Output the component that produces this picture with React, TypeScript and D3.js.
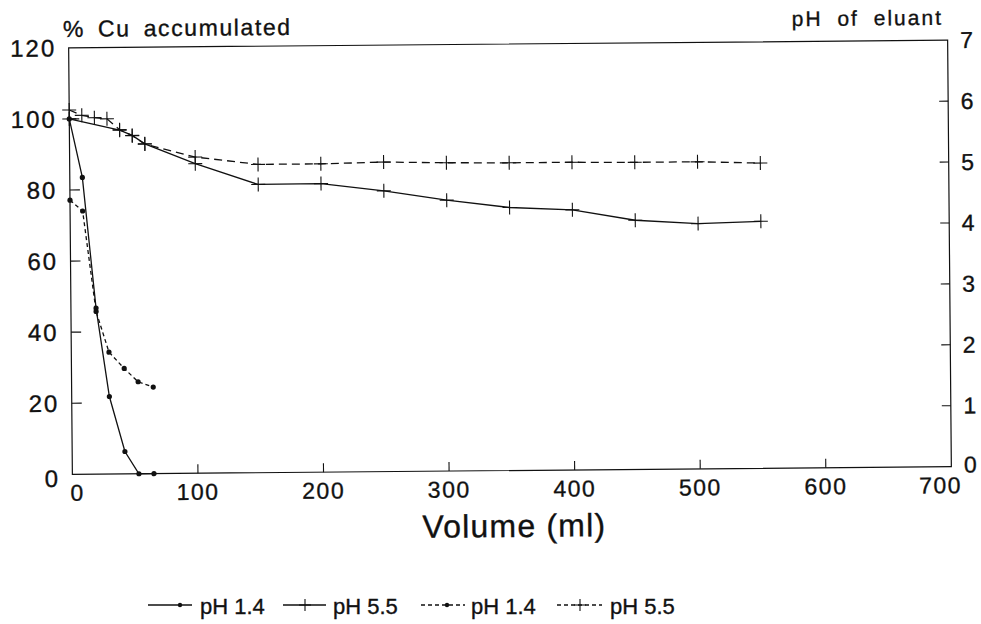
import React from "react";
import * as d3 from "d3";

const volPH14 = [0, 10, 20, 30, 42, 53, 65];
const cuPH14 = [100, 83.5, 46.7, 21.8, 6.3, 0, 0];
const eluantPH14 = [4.5, 4.32, 2.67, 2.0, 1.73, 1.51, 1.42];

const volCuPH55 = [0, 40, 50, 60, 100, 150, 200, 250, 300, 350, 400, 450, 500, 550];
const cuPH55 = [100, 96.7, 95.2, 92.8, 87.1, 81.1, 81.2, 79.0, 76.2, 74.0, 73.2, 70.1, 69.0, 69.5];
const volEluPH55 = [0, 10, 20, 30, 40, 50, 60, 100, 150, 200, 250, 300, 350, 400, 450, 500, 550];
const eluantPH55 = [5.98, 5.89, 5.85, 5.83, 5.65, 5.55, 5.41, 5.19, 5.06, 5.06, 5.08, 5.06, 5.05, 5.05, 5.04, 5.04, 5.01];

const xTicks = [0, 100, 200, 300, 400, 500, 600, 700];
const yLeftTicks = [0, 20, 40, 60, 80, 100, 120];
const yRightTicks = [0, 1, 2, 3, 4, 5, 6, 7];
const legendLabels = ["pH 1.4", "pH 5.5", "pH 1.4", "pH 5.5"];

const L = 70.5, R = 949.5, T = 44, B = 470.5;
const FONT = "'Liberation Sans', Arial, Helvetica, sans-serif";

const x = d3.scaleLinear().domain([0, 700]).range([L, R]);
const yL = d3.scaleLinear().domain([0, 120]).range([B, T]);
const yR = d3.scaleLinear().domain([0, 7]).range([B, T]);

function Cross({ cx, cy, s = 7 }: { cx: number; cy: number; s?: number }) {
  return (
    <g stroke="#111" strokeWidth={1.1}>
      <line x1={cx - s} x2={cx + s} y1={cy} y2={cy} />
      <line x1={cx} x2={cx} y1={cy - s} y2={cy + s} />
    </g>
  );
}

export default function App() {
  const line = d3.line<[number, number]>().x((d) => d[0]).y((d) => d[1]);
  const s1 = volPH14.map((v, i) => [x(v), yL(cuPH14[i])] as [number, number]);
  const s2 = volCuPH55.map((v, i) => [x(v), yL(cuPH55[i])] as [number, number]);
  const s3 = volPH14.map((v, i) => [x(v), yR(eluantPH14[i])] as [number, number]);
  const s4 = volEluPH55.map((v, i) => [x(v), yR(eluantPH55[i])] as [number, number]);

  const legY = 605;
  const txt = { stroke: "#111", strokeWidth: 0.35 };
  return (
    <svg width={981} height={624} style={{ position: "absolute", left: 0, top: 0, background: "#fff" }}>
      <rect width={981} height={624} fill="#fff" />
      <g transform="rotate(-0.5 510 257)" fontFamily={FONT} fill="#111">
        {/* frame */}
        <rect x={L} y={T} width={R - L} height={B - T} fill="none" stroke="#111" strokeWidth={1.2} />
        {/* left ticks */}
        {yLeftTicks.map((t) => (
          <g key={"l" + t}>
            {t > 0 && t < 120 && <line x1={L} x2={L + 10} y1={yL(t)} y2={yL(t)} stroke="#111" strokeWidth={1.1} />}
            <text {...txt} x={58} y={yL(t) + (t === 0 ? 4 : 0)} textAnchor="end" dominantBaseline="central" fontSize={24} letterSpacing={2}>{t}</text>
          </g>
        ))}
        {/* right ticks */}
        {yRightTicks.map((t) => (
          <g key={"r" + t}>
            {t > 0 && t < 7 && <line x1={R - 9} x2={R} y1={yR(t)} y2={yR(t)} stroke="#111" strokeWidth={1.1} />}
            <text {...txt} x={962} y={yR(t) - (t === 0 ? 2 : 0)} textAnchor="start" dominantBaseline="central" fontSize={23}>{t}</text>
          </g>
        ))}
        {/* bottom ticks */}
        {xTicks.map((t) => (
          <g key={"b" + t}>
            {t > 0 && t < 700 && <line x1={x(t)} x2={x(t)} y1={B} y2={B - 9} stroke="#111" strokeWidth={1.1} />}
            <text {...txt} x={x(t) + (t === 0 ? 5 : t === 700 ? -11 : 0)} y={489} textAnchor="middle" dominantBaseline="central" fontSize={23} letterSpacing={1.5}>{t}</text>
          </g>
        ))}
        <text {...txt} x={512} y={526} textAnchor="middle" dominantBaseline="central" fontSize={32} letterSpacing={1.2}>Volume (ml)</text>
        <text {...txt} x={65} y={25} dominantBaseline="central" fontSize={23} letterSpacing={1.6} wordSpacing={5}>% Cu accumulated</text>
        <text {...txt} x={945} y={21} textAnchor="end" dominantBaseline="central" fontSize={21} letterSpacing={2} wordSpacing={7}>pH of eluant</text>

        {/* series */}
        <path d={line(s1) || ""} fill="none" stroke="#111" strokeWidth={1.3} />
        {s1.map((p, i) => <circle key={"d1" + i} cx={p[0]} cy={p[1]} r={2.6} fill="#111" />)}
        <path d={line(s2) || ""} fill="none" stroke="#111" strokeWidth={1.3} />
        {s2.map((p, i) => <Cross key={"c2" + i} cx={p[0]} cy={p[1]} />)}
        <path d={line(s3) || ""} fill="none" stroke="#111" strokeWidth={1.3} strokeDasharray="4 3" />
        {s3.map((p, i) => <circle key={"d3" + i} cx={p[0]} cy={p[1]} r={2.6} fill="#111" />)}
        <path d={line(s4) || ""} fill="none" stroke="#111" strokeWidth={1.3} strokeDasharray="8 5" />
        {s4.map((p, i) => <Cross key={"c4" + i} cx={p[0]} cy={p[1]} />)}
      </g>

      {/* legend */}
      <g fontFamily={FONT} fill="#111" fontSize={22}>
        <line x1={148} x2={192} y1={legY} y2={legY} stroke="#111" strokeWidth={1.3} />
        <circle cx={180} cy={legY} r={2.2} fill="#111" />
        <text {...txt} x={200} y={legY + 1} dominantBaseline="central">{legendLabels[0]}</text>

        <line x1={283} x2={326} y1={legY} y2={legY} stroke="#111" strokeWidth={1.3} />
        <Cross cx={305} cy={legY} s={6} />
        <text {...txt} x={333} y={legY + 1} dominantBaseline="central">{legendLabels[1]}</text>

        <line x1={421} x2={465} y1={legY} y2={legY} stroke="#111" strokeWidth={1.3} strokeDasharray="4 3" />
        <circle cx={447} cy={legY} r={2.2} fill="#111" />
        <text {...txt} x={471} y={legY + 1} dominantBaseline="central">{legendLabels[2]}</text>

        <line x1={557} x2={602} y1={legY} y2={legY} stroke="#111" strokeWidth={1.3} strokeDasharray="4 3" />
        <Cross cx={580} cy={legY} s={6} />
        <text {...txt} x={610} y={legY + 1} dominantBaseline="central">{legendLabels[3]}</text>
      </g>
    </svg>
  );
}
